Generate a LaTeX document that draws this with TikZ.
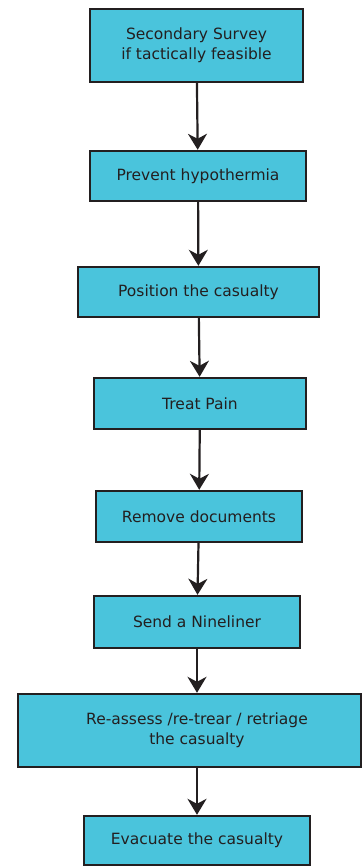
\documentclass[tikz,border=0pt]{standalone}
\usepackage{fontspec}
\setmainfont{DejaVu Sans}
\usetikzlibrary{arrows.meta}
\definecolor{boxfill}{RGB}{74,196,220}
\definecolor{ink}{RGB}{35,31,32}
\tikzset{stepbox/.style={draw=ink, fill=boxfill, line width=2.4pt, text=ink, align=center,
    font=\fontsize{15.5pt}{20pt}\selectfont}}
\begin{document}
\begin{tikzpicture}[x=1pt, y=-1pt, >={Stealth[length=16pt,width=19pt,inset=5pt]}]
\useasboundingbox (0,0) rectangle (364,868);

\node (survey) [stepbox, minimum width=213pt, minimum height=73pt] at (196.5,45.5) {Secondary Survey\\if tactically feasible};
\node (hypo) [stepbox, minimum width=216pt, minimum height=50pt] at (198,176) {Prevent hypothermia};
\node (position) [stepbox, minimum width=241pt, minimum height=50pt] at (198.5,292) {Position the casualty};
\node (pain) [stepbox, minimum width=212pt, minimum height=51pt] at (200,403.5) {Treat Pain};
\node (docs) [stepbox, minimum width=206pt, minimum height=51pt] at (199,516.5) {Remove documents};
\node (nineliner) [stepbox, minimum width=206pt, minimum height=52pt] at (197,622) {Send a Nineliner};
\node (reassess) [stepbox, minimum width=343pt, minimum height=73pt] at (189.5,730.5) {\hspace*{15pt}Re-assess /re-trear / retriage\\\hspace*{15pt}the casualty};
\node (evacuate) [stepbox, minimum width=226pt, minimum height=49pt] at (197,840.5) {Evacuate the casualty};

\foreach \a/\b in {survey/hypo, hypo/position, position/pain, pain/docs, docs/nineliner}
{
    \draw [->, ink, line width=2.2pt] (\a) -- (\b);
}
\draw [->, ink, line width=2.2pt] (nineliner) -- (nineliner |- reassess.north);
\draw [->, ink, line width=2.2pt] (evacuate |- reassess.south) -- (evacuate);
\end{tikzpicture}
\end{document}
